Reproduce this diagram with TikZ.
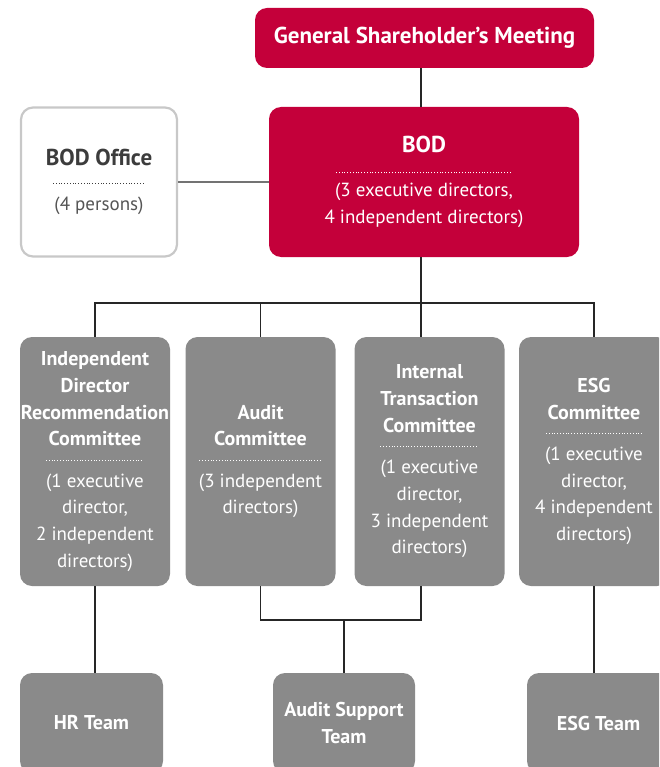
\documentclass[tikz,border=0pt]{standalone}
\usepackage{fontspec}
\setmainfont{PT Sans}
\usetikzlibrary{positioning,calc}
\definecolor{lgred}{RGB}{196,0,58}
\definecolor{lggrey}{RGB}{138,138,138}
\definecolor{lgframe}{RGB}{200,200,200}
\definecolor{lgtext}{RGB}{60,60,60}
\definecolor{lgsub}{RGB}{85,85,85}
\newcommand{\sepdots}[1]{\hbox to #1{\leaders\hbox to 2.8pt{\hss\rule{0.9pt}{0.9pt}\hss}\hfill}}
\newcommand{\toptl}[1]{{\fontsize{23}{26.7}\selectfont\bfseries #1}}
\newcommand{\ttl}[1]{{\fontsize{20}{26.7}\selectfont\bfseries #1}}
\tikzset{
orgtext/.style={font=\fontsize{19}{26.7}\selectfont,align=center,inner sep=0pt},
redbox/.style={orgtext,fill=lgred,text=white,rounded corners=12pt},
greybox/.style={orgtext,fill=lggrey,text=white,rounded corners=12pt},
officebox/.style={orgtext,draw=lgframe,line width=2.2pt,fill=white,text=lgtext,rounded corners=12pt},
comm/.style={greybox,minimum width=150pt,minimum height=249pt},
team/.style={greybox,minimum width=143pt,minimum height=100pt},
conn/.style={draw=black!85,line width=1.1pt},
officeconn/.style={draw=black!55,line width=2pt}
}
\begin{document}
\begin{tikzpicture}[x=1pt,y=-1pt]
\useasboundingbox (0,0) rectangle (659,767);
\clip (0,0) rectangle (659,767);
% top
\node[redbox,minimum width=339pt,minimum height=60pt] (gsm) at (424.5,38) {\toptl{General Shareholder's Meeting}};
\node[redbox,minimum width=310pt,minimum height=150pt] (bod) at (424,182) {\toptl{BOD}\\[-6pt]\sepdots{178pt}\\[-3pt](3 executive directors,\\4 independent directors)};
\node[officebox,minimum width=156pt,minimum height=149pt] (office) at (99,182) {\toptl{BOD Office}\\[-9pt]\sepdots{94pt}\\{\color{lgsub}(4 persons)}};
% committees
\node[comm] (idrc) at (95,461.5) {\ttl{Independent}\\\ttl{Director}\\\ttl{Recommendation}\\\ttl{Committee}\\[-12pt]\sepdots{100pt}\\(1 executive\\director,\\2 independent\\directors)};
\node[comm] (audit) at (260.5,461.5) {\ttl{Audit}\\\ttl{Committee}\\[-12pt]\sepdots{124pt}\\(3 independent\\directors)};
\node[comm] (itc) at (429.5,461.5) {\ttl{Internal}\\\ttl{Transaction}\\\ttl{Committee}\\[-12pt]\sepdots{100pt}\\(1 executive\\director,\\3 independent\\directors)};
\node[comm] (esg) at (594,461.5) {\ttl{ESG}\\\ttl{Committee}\\[-12pt]\sepdots{98pt}\\(1 executive\\director,\\4 independent\\directors)};
% teams
\node[team] (hr) at (91.5,723) {\ttl{HR Team}};
\node[team,minimum width=142pt] (ast) at (344,723) {\ttl{Audit Support}\\\ttl{Team}};
\node[team] (esgteam) at (598.5,723) {\ttl{ESG Team}};
% connectors
\coordinate (bus) at (421,303);
\coordinate (merge) at (344,620);
\draw[conn] (gsm.south -| bus) -- (bod.north -| bus);
\draw[conn] (bod.south -| bus) -- (bus);
\draw[conn] (idrc.north) |- (bus) -| (esg.north);
\draw[conn] (audit.north) -- (audit.north |- bus);
\draw[conn] (bus) -- (bus |- itc.north);
\draw[officeconn] (office.east) -- (office.east -| bod.west);
\draw[conn] (idrc.south) -- (idrc.south |- hr.north);
\draw[conn] (audit.south) |- (merge) -| (itc.south -| bus);
\draw[conn] (merge) -- (merge |- ast.north);
\draw[conn] (esg.south) -- (esg.south |- esgteam.north);
\end{tikzpicture}
\end{document}
